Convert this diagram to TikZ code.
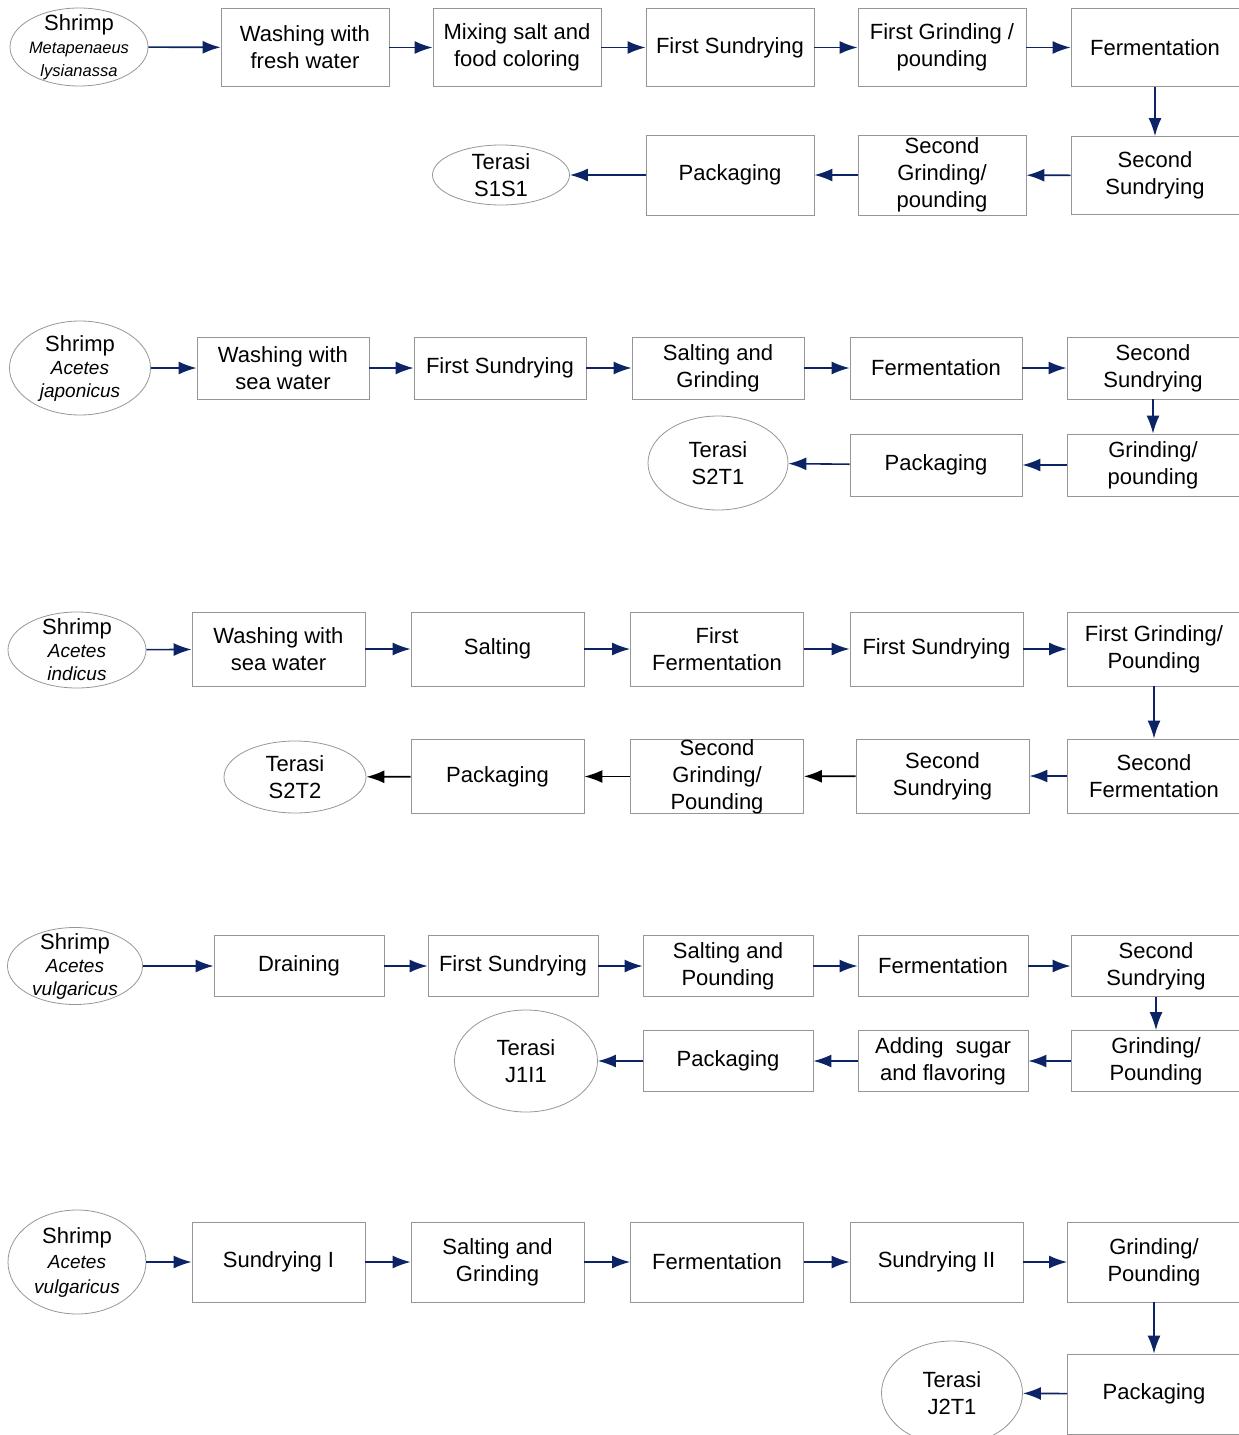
\documentclass[tikz,border=0pt]{standalone}
\usepackage{fontspec}
\setmainfont{Liberation Sans}
\usetikzlibrary{arrows.meta}
\usetikzlibrary{shapes.geometric}

\definecolor{flownavy}{RGB}{12,36,102}
\definecolor{boxgray}{RGB}{150,150,150}
\newcommand{\species}[2][19]{{\fontsize{#1}{23}\selectfont\itshape #2}}

\begin{document}
\begin{tikzpicture}[x=1pt, y=-1pt, every node/.style={font=\fontsize{22}{27}\selectfont, align=center, inner sep=0pt}, stepbox/.style={draw=boxgray, fill=white, line width=0.8pt}, shrimp/.style={ellipse, draw=boxgray, line width=0.8pt}, inlabel/.style={font=\fontsize{22}{23}\selectfont}, flow/.style={draw=flownavy, line width=1.6pt, -{Latex[length=18pt,width=13pt]}}, blackflow/.style={flow, draw=black}]
  \useasboundingbox (0,0) rectangle (1239,1435);

  % Metapenaeus lysianassa
  \begin{scope}[stepbox/.append style={minimum width=168pt, minimum height=78pt}]
    \node[shrimp, minimum width=138pt, minimum height=78pt, label={[inlabel]center:Shrimp\\\species[16.5]{Metapenaeus}\\\species[16.5]{lysianassa}}] (s1) at (79,47) {};
    \node[stepbox] (s1wash) at (305,47.5) {Washing with\\fresh water};
    \node[stepbox] (s1mix) at (517,47.5) {Mixing salt and\\food coloring};
    \node[stepbox] (s1sun) at (730,47.5) {First Sundrying};
    \node[stepbox] (s1grind) at (942,47.5) {First Grinding /\\pounding};
    \node[stepbox] (s1ferm) at (1155,47.5) {Fermentation};
    \node[stepbox] (s1sunb) at (1155,175.5) {Second\\Sundrying};
    \node[stepbox, minimum height=80pt] (s1grindb) at (942,175) {Second\\Grinding/\\pounding};
    \node[stepbox, minimum height=80pt] (s1pack) at (730,175) {Packaging};
    \node[shrimp, minimum width=137pt, minimum height=60pt, label={[inlabel, font=\fontsize{22}{27}\selectfont]center:Terasi\\S1S1}] (s1end) at (501,175) {};
  \end{scope}
  \draw[flow] (s1) -- (s1wash);
  \draw[flow] (s1wash) -- (s1mix);
  \draw[flow] (s1mix) -- (s1sun);
  \draw[flow] (s1sun) -- (s1grind);
  \draw[flow] (s1grind) -- (s1ferm);
  \draw[flow] (s1ferm) -- (s1sunb);
  \draw[flow] (s1sunb) -- (s1grindb);
  \draw[flow] (s1grindb) -- (s1pack);
  \draw[flow] (s1pack) -- (s1end);

  % Acetes japonicus
  \begin{scope}[stepbox/.append style={minimum width=172pt, minimum height=62pt}]
    \node[shrimp, minimum width=141pt, minimum height=94pt, label={[inlabel]center:Shrimp\\\species{Acetes}\\\species{japonicus}}] (s2) at (80,368) {};
    \node[stepbox] (s2wash) at (283,368) {Washing with\\sea water};
    \node[stepbox] (s2sun) at (500,368) {First Sundrying};
    \node[stepbox] (s2salt) at (718,368) {Salting and\\Grinding};
    \node[stepbox] (s2ferm) at (936,368) {Fermentation};
    \node[stepbox] (s2sunb) at (1153,368) {Second\\Sundrying};
    \node[stepbox] (s2grind) at (1153,465) {Grinding/\\pounding};
    \node[stepbox] (s2pack) at (936,465) {Packaging};
    \node[shrimp, minimum width=140pt, minimum height=94pt, label={[inlabel, font=\fontsize{22}{27}\selectfont]center:Terasi\\S2T1}] (s2end) at (718,463) {};
  \end{scope}
  \draw[flow] (s2) -- (s2wash);
  \draw[flow] (s2wash) -- (s2sun);
  \draw[flow] (s2sun) -- (s2salt);
  \draw[flow] (s2salt) -- (s2ferm);
  \draw[flow] (s2ferm) -- (s2sunb);
  \draw[flow] (s2sunb) -- (s2grind);
  \draw[flow] (s2grind) -- (s2pack);
  \draw[flow] (s2pack) -- (s2end);

  % Acetes indicus
  \begin{scope}[stepbox/.append style={minimum width=173pt, minimum height=74pt}]
    \node[shrimp, minimum width=138pt, minimum height=76pt, label={[inlabel]center:Shrimp\\\species{Acetes}\\\species{indicus}}] (s3) at (77,650) {};
    \node[stepbox] (s3wash) at (278.5,649) {Washing with\\sea water};
    \node[stepbox] (s3salt) at (497.5,649) {Salting};
    \node[stepbox] (s3ferm) at (717,649) {First\\Fermentation};
    \node[stepbox] (s3sun) at (936.5,649) {First Sundrying};
    \node[stepbox] (s3grind) at (1154,649) {First Grinding/\\Pounding};
    \node[stepbox] (s3fermb) at (1154,776) {Second\\Fermentation};
    \node[stepbox] (s3sunb) at (942.5,776) {Second\\Sundrying};
    \node[stepbox, minimum height=71pt] (s3grindb) at (717,776.5) {Second\\Grinding/\\Pounding};
    \node[stepbox] (s3pack) at (497.5,776.5) {Packaging};
    \node[shrimp, minimum width=142pt, minimum height=72pt, label={[inlabel, font=\fontsize{22}{27}\selectfont]center:Terasi\\S2T2}] (s3end) at (295,777) {};
  \end{scope}
  \draw[flow] (s3) -- (s3wash);
  \draw[flow] (s3wash) -- (s3salt);
  \draw[flow] (s3salt) -- (s3ferm);
  \draw[flow] (s3ferm) -- (s3sun);
  \draw[flow] (s3sun) -- (s3grind);
  \draw[flow] (s3grind) -- (s3fermb);
  \draw[flow] (s3fermb) -- (s3sunb);
  \draw[blackflow] (s3sunb) -- (s3grindb);
  \draw[blackflow] (s3grindb) -- (s3pack);
  \draw[blackflow] (s3pack) -- (s3end);

  % Acetes vulgaricus (J1I1)
  \begin{scope}[stepbox/.append style={minimum width=170pt, minimum height=61pt}]
    \node[shrimp, minimum width=135pt, minimum height=77pt, label={[inlabel]center:Shrimp\\\species{Acetes}\\\species{vulgaricus}}] (s4) at (75,966) {};
    \node[stepbox] (s4drain) at (299,966) {Draining};
    \node[stepbox] (s4sun) at (513,966) {First Sundrying};
    \node[stepbox] (s4salt) at (728,966) {Salting and\\Pounding};
    \node[stepbox] (s4ferm) at (943,966) {Fermentation};
    \node[stepbox] (s4sunb) at (1156,966) {Second\\Sundrying};
    \node[stepbox] (s4grind) at (1156,1061) {Grinding/\\Pounding};
    \node[stepbox] (s4sugar) at (943,1061) {Adding~ sugar\\and flavoring};
    \node[stepbox] (s4pack) at (728,1061) {Packaging};
    \node[shrimp, minimum width=143pt, minimum height=102pt, label={[inlabel, font=\fontsize{22}{27}\selectfont]center:Terasi\\J1I1}] (s4end) at (526,1061) {};
  \end{scope}
  \draw[flow] (s4) -- (s4drain);
  \draw[flow] (s4drain) -- (s4sun);
  \draw[flow] (s4sun) -- (s4salt);
  \draw[flow] (s4salt) -- (s4ferm);
  \draw[flow] (s4ferm) -- (s4sunb);
  \draw[flow] (s4sunb) -- (s4grind);
  \draw[flow] (s4grind) -- (s4sugar);
  \draw[flow] (s4sugar) -- (s4pack);
  \draw[flow] (s4pack) -- (s4end);

  % Acetes vulgaricus (J2T1)
  \begin{scope}[stepbox/.append style={minimum width=173pt, minimum height=80pt}]
    \node[shrimp, minimum width=138pt, minimum height=104pt, label={[inlabel, font=\fontsize{22}{25}\selectfont]center:Shrimp\\\species{Acetes}\\\species{vulgaricus}}] (s5) at (77,1262) {};
    \node[stepbox] (s5sun) at (278.5,1262) {Sundrying I};
    \node[stepbox] (s5salt) at (497.5,1262) {Salting and\\Grinding};
    \node[stepbox] (s5ferm) at (717,1262) {Fermentation};
    \node[stepbox] (s5sunb) at (936.5,1262) {Sundrying II};
    \node[stepbox] (s5grind) at (1154,1262) {Grinding/\\Pounding};
    \node[stepbox] (s5pack) at (1154,1394) {Packaging};
    \node[shrimp, minimum width=141pt, minimum height=104pt, label={[inlabel, font=\fontsize{22}{27}\selectfont]center:Terasi\\J2T1}] (s5end) at (952,1393) {};
  \end{scope}
  \draw[flow] (s5) -- (s5sun);
  \draw[flow] (s5sun) -- (s5salt);
  \draw[flow] (s5salt) -- (s5ferm);
  \draw[flow] (s5ferm) -- (s5sunb);
  \draw[flow] (s5sunb) -- (s5grind);
  \draw[flow] (s5grind) -- (s5pack);
  \draw[flow] (s5pack) -- (s5end);
\end{tikzpicture}
\end{document}
